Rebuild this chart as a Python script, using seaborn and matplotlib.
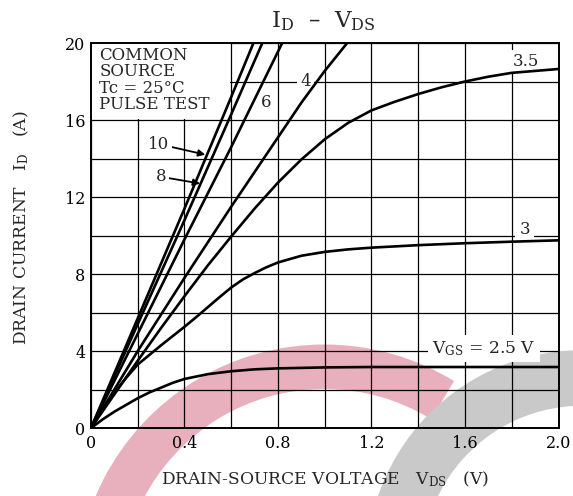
import numpy as np
import pandas as pd
import matplotlib
matplotlib.use("Agg")
import matplotlib.pyplot as plt
from matplotlib.patches import Arc, Rectangle
import seaborn as sns

# ── Data ──────────────────────────────────────────────────────────────
vgs10_v = [0, 0.2, 0.4, 0.6, 0.695]
vgs10_i = [0, 5.7, 11.4, 17.2, 20.0]

vgs8_v = [0, 0.2, 0.4, 0.6, 0.733]
vgs8_i = [0, 5.4, 10.8, 16.3, 20.0]

vgs6_v = [0, 0.2, 0.4, 0.6, 0.818]
vgs6_i = [0, 4.9, 9.8, 14.6, 20.0]

vgs4_v = [0, 0.2, 0.4, 0.6, 0.8, 0.9, 1.0, 1.096]
vgs4_i = [0, 4.0, 7.8, 11.5, 15.1, 16.9, 18.55, 20.0]

vgs35_v = [0, 0.1, 0.2, 0.3, 0.4, 0.5, 0.6, 0.7, 0.8, 0.9, 1.0, 1.1, 1.2,
           1.3, 1.4, 1.5, 1.6, 1.7, 1.8, 1.9, 2.0]
vgs35_i = [0, 1.75, 3.5, 5.2, 6.85, 8.45, 9.95, 11.4, 12.75, 13.95, 15.0,
           15.85, 16.5, 16.95, 17.35, 17.7, 18.0, 18.25, 18.45, 18.55, 18.65]

vgs3_v = [0, 0.05, 0.1, 0.15, 0.2, 0.25, 0.3, 0.35, 0.4, 0.45, 0.5, 0.55,
          0.6, 0.65, 0.7, 0.75, 0.8, 0.9, 1.0, 1.1, 1.2, 1.4, 1.6, 1.8, 2.0]
vgs3_i = [0, 0.95, 1.85, 2.6, 3.3, 3.8, 4.3, 4.78, 5.26, 5.76, 6.28, 6.8,
          7.3, 7.72, 8.05, 8.35, 8.6, 8.95, 9.15, 9.28, 9.37, 9.5, 9.6,
          9.68, 9.75]

vgs25_v = [0, 0.05, 0.1, 0.15, 0.2, 0.25, 0.3, 0.35, 0.4, 0.5, 0.6, 0.7,
           0.8, 1.0, 1.2, 1.6, 2.0]
vgs25_i = [0, 0.45, 0.85, 1.2, 1.55, 1.85, 2.1, 2.35, 2.55, 2.8, 2.95,
           3.05, 3.1, 3.15, 3.17, 3.17, 3.17]

x_ticks = [0, 0.4, 0.8, 1.2, 1.6, 2.0]
x_ticklabels = ["0", "0.4", "0.8", "1.2", "1.6", "2.0"]
y_ticks = [0, 4, 8, 12, 16, 20]

curves = [
    ("10", vgs10_v, vgs10_i),
    ("8", vgs8_v, vgs8_i),
    ("6", vgs6_v, vgs6_i),
    ("4", vgs4_v, vgs4_i),
    ("3.5", vgs35_v, vgs35_i),
    ("3", vgs3_v, vgs3_i),
    ("2.5", vgs25_v, vgs25_i),
]

df = pd.concat(
    [pd.DataFrame({"vgs": name, "vds": v, "id": i}) for name, v, i in curves],
    ignore_index=True,
)

# ── Style ─────────────────────────────────────────────────────────────
sns.set_theme(style="white")
plt.rcParams["font.family"] = ["DejaVu Serif"]
plt.rcParams["mathtext.fontset"] = "dejavuserif"

fig = plt.figure(figsize=(5.73, 4.96), dpi=100)
fig.patch.set_facecolor("white")
ax = fig.add_axes([0.1588, 0.137, 0.8159, 0.7763])
ax.set_facecolor("none")

# watermark-like arcs behind the chart
fig.patches.append(Arc((0.566, -0.195), 2 * 226 / 573, 2 * 226 / 496,
                       theta1=62, theta2=185, transform=fig.transFigure,
                       color="#e8b0bc", lw=32, zorder=-5))
fig.patches.append(Arc((1.016, -0.141), 2 * 188 / 573, 2 * 188 / 496,
                       theta1=80, theta2=200, transform=fig.transFigure,
                       color="#c9c9c9", lw=40, zorder=-5))

ax.set_axisbelow(True)
for name, v, i in curves:
    sub = df[df["vgs"] == name]
    sns.lineplot(data=sub, x="vds", y="id", color="black", linewidth=1.9,
                 sort=False, estimator=None, ax=ax, zorder=3)
for ln in ax.lines:
    ln.set_solid_joinstyle("round")

ax.set_xlim(0, 2.0)
ax.set_ylim(0, 20)
ax.set_xticks(x_ticks)
ax.set_xticklabels(x_ticklabels)
ax.set_yticks(y_ticks)
ax.set_xticks(np.arange(0, 2.01, 0.2), minor=True)
ax.set_yticks(np.arange(0, 20.1, 2), minor=True)
ax.grid(True, which="both", color="black", linewidth=0.9)
ax.tick_params(which="both", length=0, labelsize=11.5, colors="black")
ax.tick_params(axis="y", pad=4)
ax.tick_params(axis="x", pad=5)
ax.set_xlabel("")
ax.set_ylabel("")
for s in ax.spines.values():
    s.set_color("black")
    s.set_linewidth(1.4)

# white box behind the condition text
ax.add_patch(Rectangle((0.0, 16.06), 0.594, 3.94, facecolor="white",
                       edgecolor="none", zorder=1))
ax.text(0.035, 19.8, "COMMON\nSOURCE\nTc = 25°C\nPULSE TEST", fontsize=12,
        va="top", ha="left", linespacing=0.95, zorder=2)

box = dict(facecolor="white", edgecolor="none", pad=2)
ax.annotate("10", xy=(0.489, 14.2), xytext=(0.29, 14.75), fontsize=12,
            ha="center", va="center", zorder=2, bbox=box,
            arrowprops=dict(arrowstyle="-|>", color="black", lw=1.3,
                            mutation_scale=10, shrinkA=0, shrinkB=0))
ax.annotate("8", xy=(0.467, 12.7), xytext=(0.30, 13.05), fontsize=12,
            ha="center", va="center", zorder=2, bbox=box,
            arrowprops=dict(arrowstyle="-|>", color="black", lw=1.3,
                            mutation_scale=10, shrinkA=0, shrinkB=0))
ax.text(0.749, 16.9, "6", fontsize=12, ha="center", va="center",
        zorder=2, bbox=dict(facecolor="white", edgecolor="none", pad=4))
ax.text(0.918, 18.0, "4", fontsize=12, ha="center", va="center",
        zorder=2, bbox=box)
ax.text(1.862, 19.05, "3.5", fontsize=12, ha="center", va="center",
        zorder=2, bbox=box)
ax.text(1.855, 10.3, "3", fontsize=12, ha="center", va="center",
        zorder=2, bbox=dict(facecolor="white", edgecolor="none", pad=3))
ax.text(1.682, 4.12, r"$\mathrm{V_{GS}}$ = 2.5 V", fontsize=12.3,
        ha="center", va="center", zorder=2,
        bbox=dict(facecolor="white", edgecolor="none", pad=3))

fig.text(0.564, 0.958, r"$\mathrm{I_D}$  –  $\mathrm{V_{DS}}$", fontsize=16.5,
         ha="center", va="center")
fig.text(0.567, 0.033, r"DRAIN-SOURCE VOLTAGE   $\mathrm{V_{DS}}$   (V)",
         fontsize=12.3, ha="center", va="center")
fig.text(0.038, 0.54, r"DRAIN CURRENT   $\mathrm{I_D}$   (A)", fontsize=12.3,
         ha="center", va="center", rotation=90)

fig.savefig("out.png", dpi=100, facecolor="white")
